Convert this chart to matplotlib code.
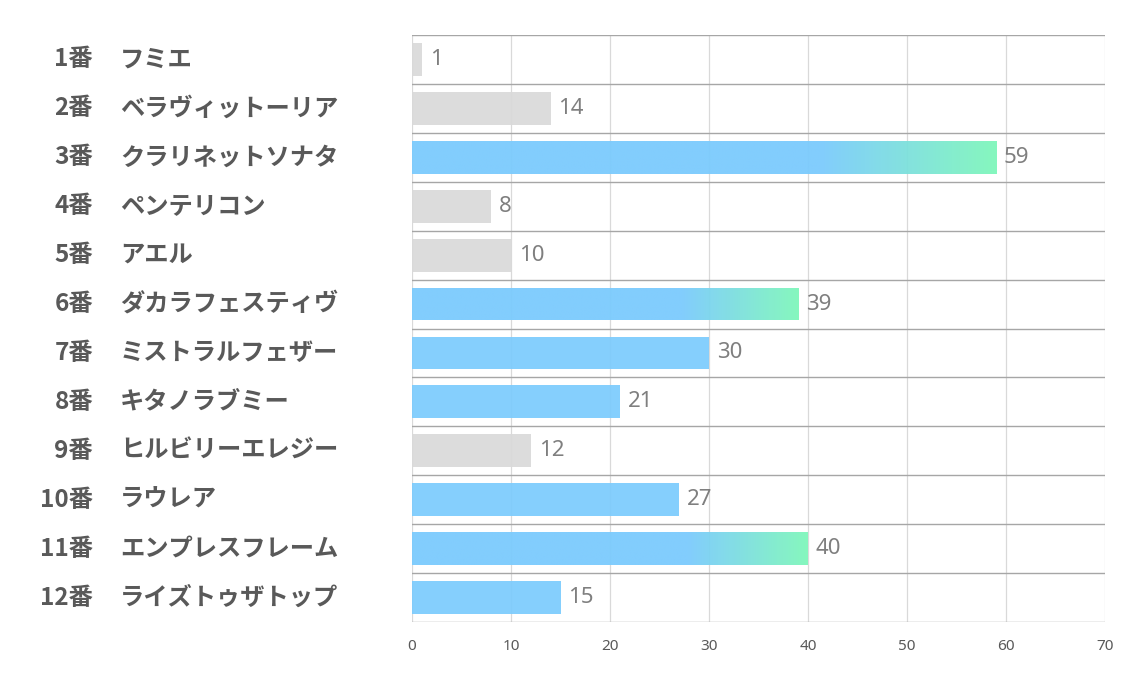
import matplotlib.pyplot as plt
import matplotlib.transforms as mtransforms
from matplotlib.colors import LinearSegmentedColormap
import numpy as np

plt.rcParams['font.family'] = ['Noto Sans CJK JP', 'DejaVu Sans']

numbers = ['1番', '2番', '3番', '4番', '5番', '6番', '7番', '8番', '9番', '10番', '11番', '12番']
names = ['フミエ', 'ベラヴィットーリア', 'クラリネットソナタ', 'ペンテリコン', 'アエル',
         'ダカラフェスティヴ', 'ミストラルフェザー', 'キタノラブミー', 'ヒルビリーエレジー',
         'ラウレア', 'エンプレスフレーム', 'ライズトゥザトップ']
values = [1, 14, 59, 8, 10, 39, 30, 21, 12, 27, 40, 15]
# 0 = gray, 1 = blue, 2 = blue with gradient to green
kind = [0, 0, 2, 0, 0, 2, 1, 1, 0, 1, 2, 1]
xticks = [0, 10, 20, 30, 40, 50, 60, 70]

blue = '#7bcbfd'
green = '#7ff7bb'
gray = '#d9d9d9'
cmap = LinearSegmentedColormap.from_list('bg', [(0, blue), (0.70, blue), (1, green)])

fig = plt.figure(figsize=(11.34, 6.8), dpi=100)
ax = fig.add_axes([412 / 1134, 1 - 622 / 680, 693 / 1134, 587 / 680])

y = np.arange(len(values))
h = 0.67
colors = [gray if k == 0 else blue for k in kind]
bars = ax.barh(y, values, height=h, color=colors, alpha=0.92, zorder=2)

grad = np.linspace(0, 1, 256).reshape(1, -1)
for b, v, k, yi in zip(bars, values, kind, y):
    if k == 2:
        b.set_facecolor('none')
        im = ax.imshow(grad, cmap=cmap, aspect='auto', alpha=0.95,
                       extent=(0, v, yi + h / 2, yi - h / 2), zorder=2)
        im.set_clip_path(b)
    ax.text(v + 0.8, yi, str(v), va='center', ha='left', fontsize=16,
            color='#7f7f7f', family=['Noto Sans', 'DejaVu Sans'])

ax.set_xlim(0, 70)
ax.set_ylim(len(values) - 0.5, -0.5)
ax.set_xticks(xticks)
ax.set_xticklabels([str(t) for t in xticks], fontsize=11, color='#595959',
                   family=['Noto Sans', 'DejaVu Sans'])
ax.set_yticks([])
ax.tick_params(axis='x', length=0, pad=12)
for s in ax.spines.values():
    s.set_visible(False)

for t in xticks:
    ax.axvline(t, color='#d9d9d9', lw=0.9, zorder=1)
for b in np.arange(-0.5, len(values), 1):
    ax.axhline(b, color='#a6a6a6', lw=1.0, zorder=3)

tr = mtransforms.blended_transform_factory(fig.transFigure, ax.transData)
for yi, n, nm in zip(y, numbers, names):
    ax.text(93 / 1134, yi, n, transform=tr, ha='right', va='center',
            fontsize=17.5, fontweight='bold', color='#595959')
    ax.text(120 / 1134, yi, nm, transform=tr, ha='left', va='center',
            fontsize=17.5, fontweight='bold', color='#595959')

fig.savefig('out.png', dpi=100)
